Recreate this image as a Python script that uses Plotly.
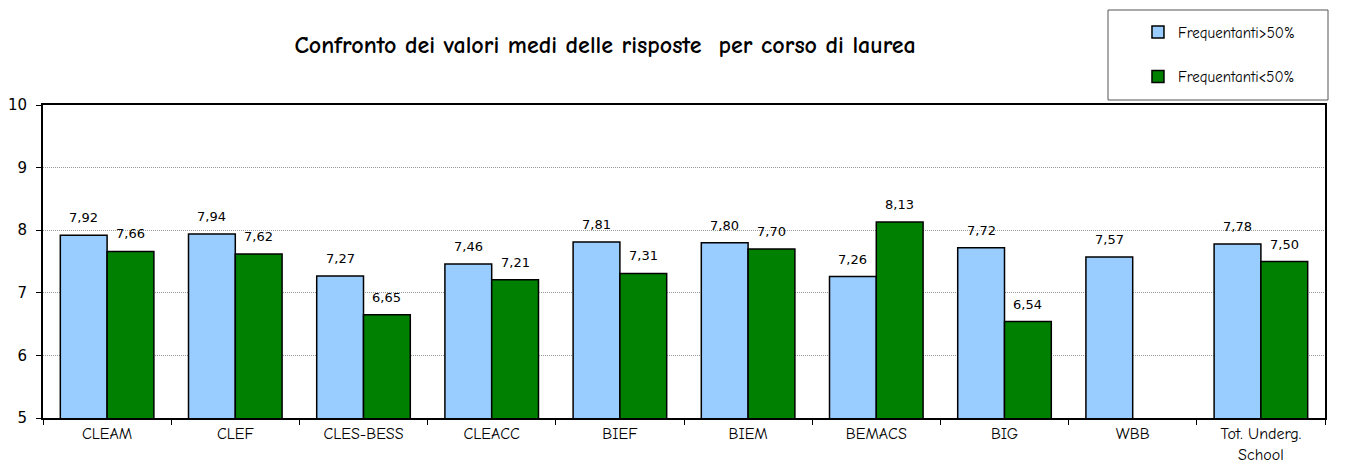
import plotly.graph_objects as go

categories = ["CLEAM", "CLEF", "CLES-BESS", "CLEACC", "BIEF", "BIEM",
              "BEMACS", "BIG", "WBB", "Tot. Underg.<br>School"]
freq_over_50 = [7.92, 7.94, 7.27, 7.46, 7.81, 7.80, 7.26, 7.72, 7.57, 7.78]
freq_under_50 = [7.66, 7.62, 6.65, 7.21, 7.31, 7.70, 8.13, 6.54, None, 7.50]

COMIC = "Comic Sans MS, Comic Neue, Noto Sans, DejaVu Sans, sans-serif"
PLAIN = "DejaVu Sans, Verdana, sans-serif"

fig = go.Figure()
fig.add_trace(go.Bar(
    x=categories, y=freq_over_50, name="Frequentanti>50%",
    marker=dict(color="#99ccff", line=dict(color="black", width=1.5)),
    legendgroup="a",
))
fig.add_trace(go.Bar(
    x=categories, y=freq_under_50, name="Frequentanti<50%",
    marker=dict(color="#008000", line=dict(color="black", width=1.5)),
    legendgroup="b",
))

# value labels above each bar, shifted to the bar's slot within the group
labels = []
for series, shift in ((freq_over_50, -23.4), (freq_under_50, 23.4)):
    for cat, val in zip(categories, series):
        if val is None:
            continue
        labels.append(dict(
            x=cat, y=val, xref="x", yref="y", text=f"{val:.2f}".replace(".", ","),
            showarrow=False, xanchor="center", yanchor="bottom",
            xshift=shift, yshift=8,
            font=dict(size=13, color="black", family=PLAIN),
        ))

fig.update_layout(
    width=1346, height=470,
    margin=dict(l=43, r=21, t=105, b=52),
    paper_bgcolor="white", plot_bgcolor="white",
    barmode="group", bargap=0.27, bargroupgap=0,
    font=dict(family=COMIC, color="black"),
    title=dict(
        text="<b>Confronto dei valori medi delle risposte  per corso di laurea</b>",
        x=0.4495, xanchor="center", y=0.905, yanchor="middle",
        font=dict(size=24, family=COMIC, color="black"),
    ),
    legend=dict(
        x=0.9173, xanchor="center", y=1.285, yanchor="top",
        bgcolor="rgba(0,0,0,0)", borderwidth=0,
        font=dict(size=15, family=COMIC),
        traceorder="grouped", tracegroupgap=22,
    ),
    showlegend=True,
    annotations=labels,
    shapes=[dict(
        type="rect", xref="paper", yref="paper",
        x0=(1108 - 43) / 1282, x1=(1328 - 43) / 1282,
        y0=(418 - 100) / 313, y1=(418 - 10) / 313,
        line=dict(color="#555555", width=1), fillcolor="rgba(0,0,0,0)",
        layer="below",
    )],
)

fig.update_xaxes(
    type="category", showgrid=False, showline=True, linecolor="black",
    linewidth=2, mirror=True, ticks="outside", tickson="boundaries",
    ticklen=5, tickcolor="black", tickfont=dict(size=16, family=COMIC),
    automargin=False,
)
fig.update_yaxes(
    range=[5, 10], dtick=1, showgrid=True, gridcolor="#999999",
    griddash="1px,1px", gridwidth=1, showline=True, linecolor="black",
    linewidth=2, mirror=True, ticks="outside", ticklen=5,
    tickcolor="black", tickfont=dict(size=15, family=PLAIN),
    ticklabelstandoff=6, zeroline=False, automargin=False,
)

fig.write_html("out.html")
